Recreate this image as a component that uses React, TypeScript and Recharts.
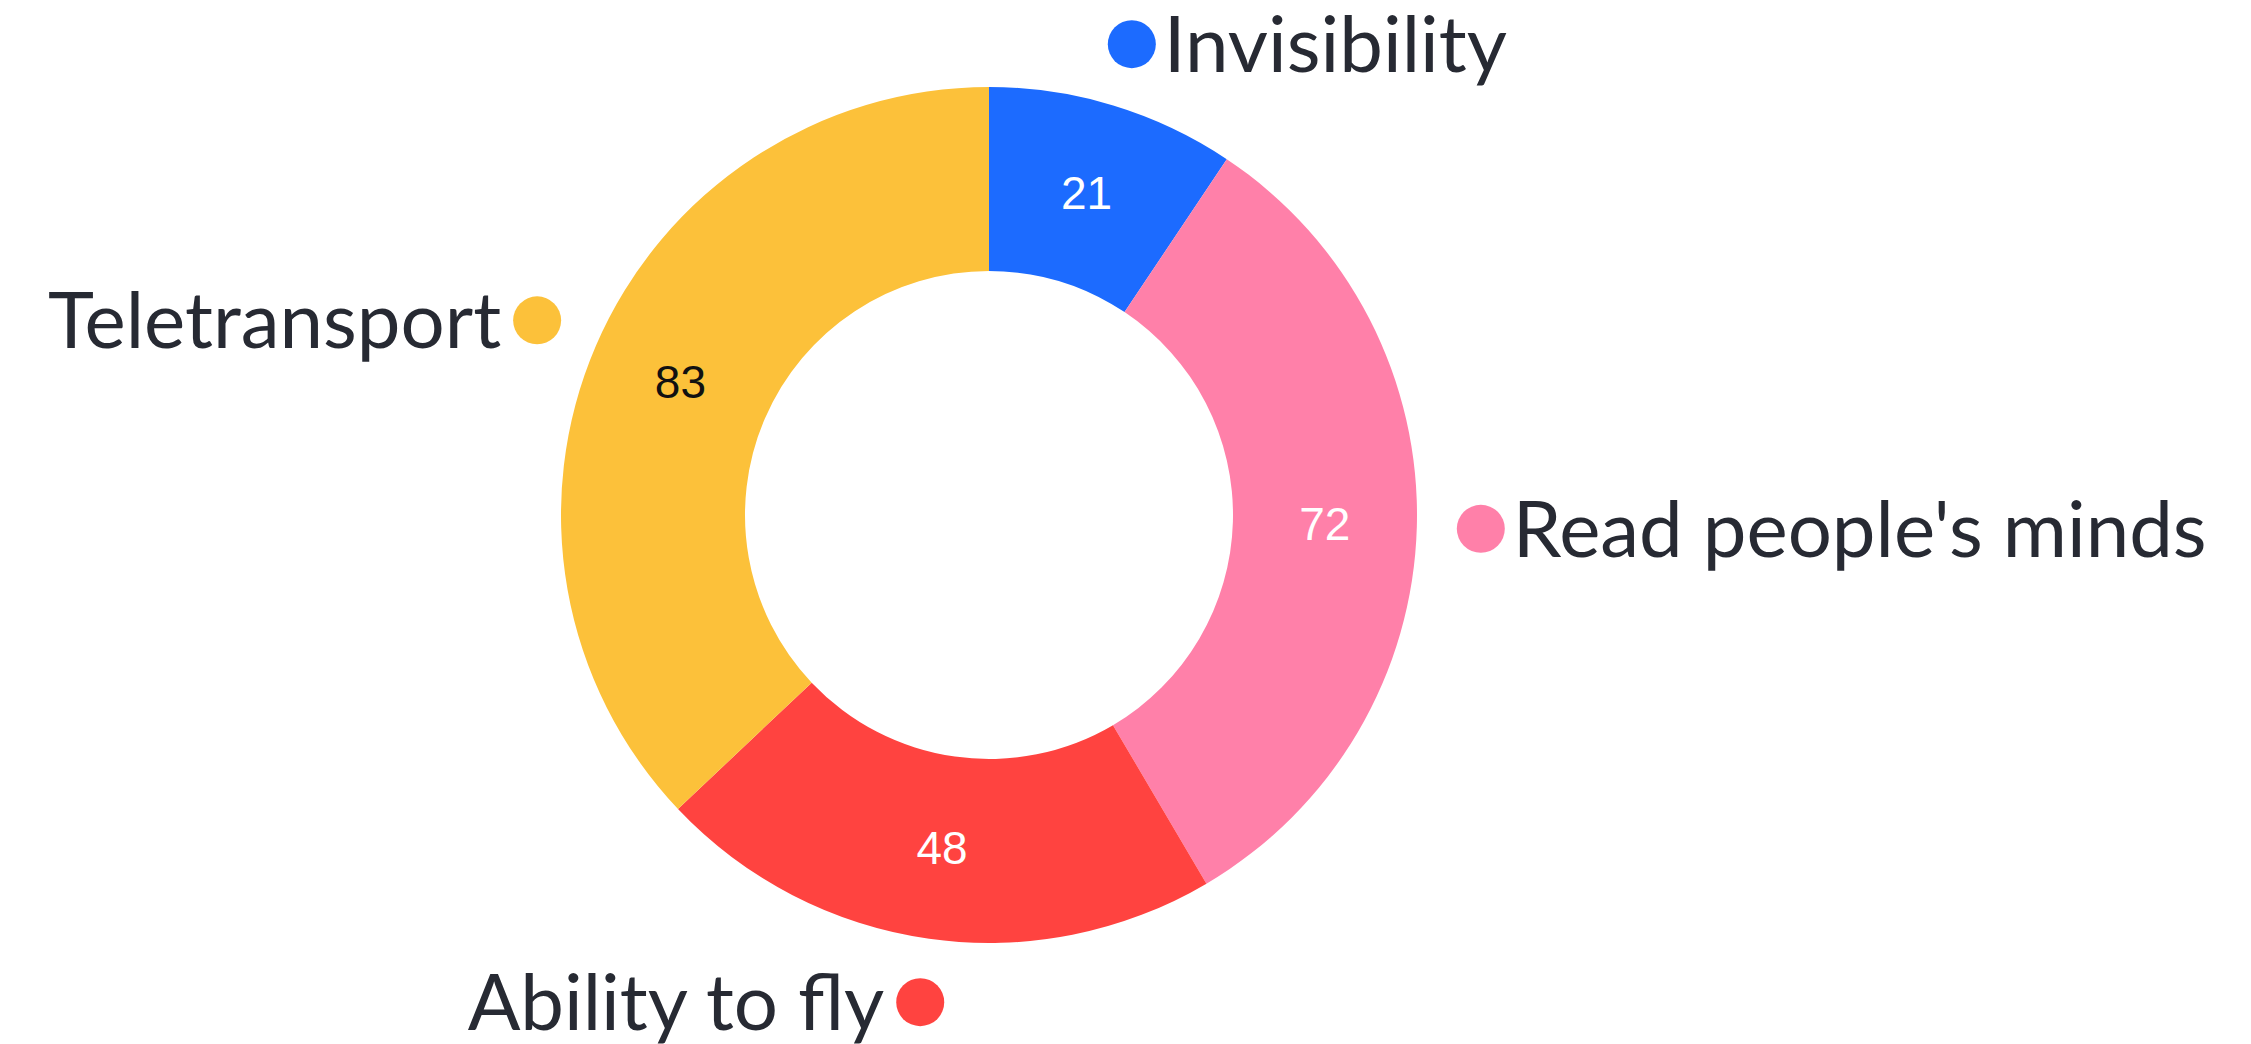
import { PieChart, Pie, Cell } from 'recharts'

const powers = ['Invisibility', "Read people's minds", 'Ability to fly', 'Teletransport']
const votes = [21, 72, 48, 83]
const colors = ['#1c6bff', '#ff80a9', '#ff4340', '#fcc13a']
const valueColors = ['#ffffff', '#ffffff', '#ffffff', '#111111']

const RAD = Math.PI / 180

function renderLabel(props: any) {
  const { cx, cy, midAngle, innerRadius, outerRadius, index } = props
  const cos = Math.cos(-midAngle * RAD)
  const sin = Math.sin(-midAngle * RAD)

  // value inside the ring
  const mid = (innerRadius + outerRadius) / 2
  const vx = cx + mid * cos
  const vy = cy + mid * sin

  // dot + name outside
  const r = outerRadius + 64
  const dx = cx + r * cos
  const dy = cy + r * sin
  const right = cos >= 0

  return (
    <g key={`lbl-${index}`}>
      <text
        x={vx}
        y={vy}
        fill={valueColors[index]}
        textAnchor="middle"
        dominantBaseline="central"
        fontFamily="'Liberation Sans', Arial, sans-serif"
        fontSize={46}
      >
        {votes[index]}
      </text>
      <circle cx={dx} cy={dy} r={24} fill={colors[index]} />
      <text
        x={right ? dx + 32 : dx - 36}
        y={dy + 28}
        fill="#272a33"
        textAnchor={right ? 'start' : 'end'}
        fontFamily="Lato, sans-serif"
        fontSize={78}
      >
        {powers[index]}
      </text>
    </g>
  )
}

export default function App() {
  const data = powers.map((name, i) => ({ name, value: votes[i] }))

  return (
    <div style={{ width: 2251, height: 1044, background: '#fff' }}>
      <style>{'body{margin:0}'}</style>
      <PieChart width={2251} height={1044}>
        <Pie
          data={data}
          dataKey="value"
          nameKey="name"
          cx={984}
          cy={510}
          innerRadius={244}
          outerRadius={428}
          startAngle={90}
          endAngle={-270}
          stroke="none"
          label={renderLabel}
          labelLine={false}
          isAnimationActive={false}
        >
          {data.map((d, i) => (
            <Cell key={d.name} fill={colors[i]} />
          ))}
        </Pie>
      </PieChart>
    </div>
  )
}
